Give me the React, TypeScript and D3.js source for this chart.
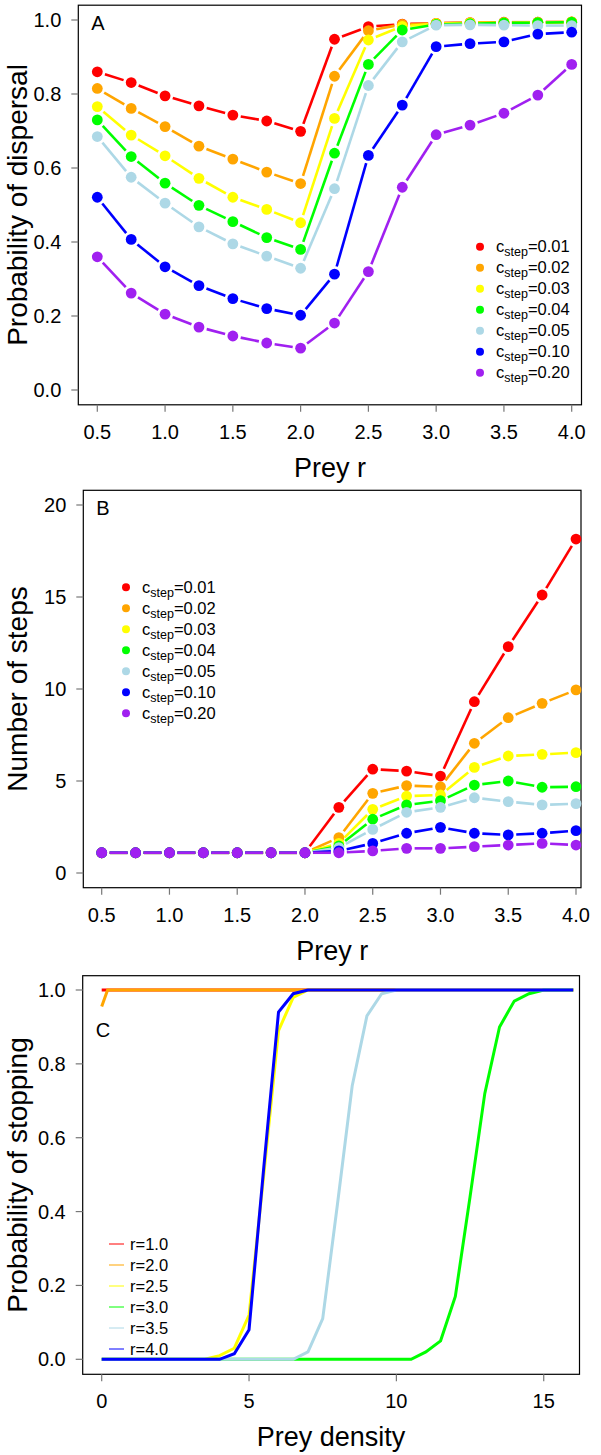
import * as d3 from "d3";
import React, { useEffect, useRef } from "react";

const rValues = [0.5, 0.75, 1, 1.25, 1.5, 1.75, 2, 2.25, 2.5, 2.75, 3, 3.25, 3.5, 3.75, 4];
const cStepLabels = ["0.01", "0.02", "0.03", "0.04", "0.05", "0.10", "0.20"];
const cStepColors = ["#FF0000", "#FFA500", "#FFFF00", "#00FF00", "#ADD8E6", "#0000FF", "#A020F0"];

// panel A: probability of dispersal, one array per c_step
const dispersal001 = [0.86, 0.831, 0.795, 0.768, 0.743, 0.727, 0.699, 0.948, 0.982, 0.989, 0.991, 0.993, 0.994, 0.994, 0.995];
const dispersal002 = [0.815, 0.761, 0.712, 0.659, 0.624, 0.589, 0.558, 0.848, 0.971, 0.988, 0.991, 0.993, 0.993, 0.994, 0.994];
const dispersal003 = [0.766, 0.689, 0.633, 0.572, 0.521, 0.488, 0.452, 0.734, 0.946, 0.983, 0.99, 0.992, 0.993, 0.993, 0.995];
const dispersal004 = [0.73, 0.631, 0.559, 0.499, 0.455, 0.412, 0.38, 0.64, 0.88, 0.973, 0.988, 0.99, 0.992, 0.993, 0.994];
const dispersal005 = [0.685, 0.575, 0.505, 0.441, 0.395, 0.362, 0.329, 0.544, 0.823, 0.941, 0.986, 0.987, 0.986, 0.985, 0.985];
const dispersal010 = [0.521, 0.407, 0.333, 0.282, 0.247, 0.22, 0.202, 0.313, 0.634, 0.77, 0.928, 0.936, 0.941, 0.962, 0.967];
const dispersal020 = [0.36, 0.262, 0.205, 0.17, 0.146, 0.127, 0.113, 0.181, 0.32, 0.548, 0.69, 0.716, 0.748, 0.797, 0.88];

// panel B: number of steps
const steps001 = [1.1, 1.1, 1.1, 1.1, 1.1, 1.1, 1.1, 3.57, 5.64, 5.54, 5.27, 9.31, 12.3, 15.11, 18.15];
const steps002 = [1.1, 1.1, 1.1, 1.1, 1.1, 1.1, 1.1, 1.92, 4.33, 4.75, 4.69, 7.05, 8.44, 9.22, 9.95];
const steps003 = [1.1, 1.1, 1.1, 1.1, 1.1, 1.1, 1.1, 1.61, 3.46, 4.18, 4.24, 5.74, 6.36, 6.45, 6.54];
const steps004 = [1.1, 1.1, 1.1, 1.1, 1.1, 1.1, 1.1, 1.47, 2.92, 3.7, 3.93, 4.78, 5.0, 4.66, 4.69];
const steps005 = [1.1, 1.1, 1.1, 1.1, 1.1, 1.1, 1.1, 1.38, 2.37, 3.3, 3.57, 4.09, 3.88, 3.7, 3.77];
const steps010 = [1.1, 1.1, 1.1, 1.1, 1.1, 1.1, 1.1, 1.2, 1.61, 2.16, 2.48, 2.16, 2.07, 2.16, 2.3];
const steps020 = [1.1, 1.1, 1.1, 1.1, 1.1, 1.1, 1.1, 1.1, 1.2, 1.34, 1.34, 1.43, 1.52, 1.61, 1.52];

// panel C: probability of stopping vs prey density, [density, prob]
const rLabels = ["1.0", "2.0", "2.5", "3.0", "3.5", "4.0"];
const rColors = ["#FF0000", "#FFA500", "#FFFF00", "#00FF00", "#ADD8E6", "#0000FF"];
const stopR10 = [[0, 1], [16, 1]];
const stopR20 = [[0, 0.955], [0.2, 1], [16, 1]];
const stopR25 = [[0, 0], [3.5, 0], [4, 0.01], [4.5, 0.03], [5, 0.12], [5.5, 0.5], [6, 0.89], [6.5, 0.98], [7, 1], [16, 1]];
const stopR30 = [[0, 0], [10.5, 0], [11, 0.02], [11.5, 0.05], [12, 0.17], [12.5, 0.44], [13, 0.72], [13.5, 0.9], [14, 0.97], [14.5, 0.99], [15, 1], [16, 1]];
const stopR35 = [[0, 0], [6.5, 0], [7, 0.02], [7.5, 0.11], [8, 0.42], [8.5, 0.74], [9, 0.93], [9.5, 0.99], [10, 1], [16, 1]];
const stopR40 = [[0, 0], [4, 0], [4.5, 0.015], [5, 0.08], [5.5, 0.52], [6, 0.94], [6.5, 0.99], [7, 1], [16, 1]];

const FONT = "Liberation Sans, Arial, Helvetica, sans-serif";
const TICK_COL = "#777";

export default function App() {
  const svgRef = useRef(null);

  const drawFrame = (svg, p, xTicks, yTicks, xFmt, yFmt, xLabel, yLabel, tag, tagY) => {
    const g = svg.append("g");
    g.append("rect")
      .attr("x", p.left).attr("y", p.top)
      .attr("width", p.right - p.left).attr("height", p.bottom - p.top)
      .attr("fill", "none").attr("stroke", "#000").attr("stroke-width", 1.2);

    // x axis ticks
    xTicks.forEach((t) => {
      const x = p.x(t);
      g.append("line").attr("x1", x).attr("x2", x).attr("y1", p.bottom).attr("y2", p.bottom + 7)
        .attr("stroke", TICK_COL).attr("stroke-width", 1.2);
      g.append("text").attr("x", x).attr("y", p.bottom + 34)
        .attr("text-anchor", "middle").attr("font-size", 20).attr("font-family", FONT)
        .text(xFmt(t));
    });
    // y axis ticks
    yTicks.forEach((t) => {
      const y = p.y(t);
      g.append("line").attr("x1", p.left - 7).attr("x2", p.left).attr("y1", y).attr("y2", y)
        .attr("stroke", TICK_COL).attr("stroke-width", 1.2);
      g.append("text").attr("x", p.left - 17).attr("y", y + 7)
        .attr("text-anchor", "end").attr("font-size", 20).attr("font-family", FONT)
        .text(yFmt(t));
    });

    g.append("text").attr("x", (p.left + p.right) / 2).attr("y", p.bottom + 72)
      .attr("text-anchor", "middle").attr("font-size", 27).attr("font-family", FONT)
      .text(xLabel);
    g.append("text")
      .attr("transform", `translate(${27},${(p.top + p.bottom) / 2}) rotate(-90)`)
      .attr("text-anchor", "middle").attr("font-size", 28).attr("font-family", FONT)
      .text(yLabel);
    g.append("text").attr("x", p.left + 13).attr("y", tagY)
      .attr("font-size", 20).attr("font-family", FONT).text(tag);
  };

  // R's type="b": segments with gaps around points, then filled points
  const drawSeriesB = (svg, p, ys, color) => {
    const pts = rValues.map((r, i) => [p.x(r), p.y(ys[i])]);
    const gap = 8;
    for (let i = 0; i < pts.length - 1; i++) {
      const [x1, y1] = pts[i];
      const [x2, y2] = pts[i + 1];
      const len = Math.hypot(x2 - x1, y2 - y1);
      if (len <= 2 * gap) continue;
      const ux = (x2 - x1) / len;
      const uy = (y2 - y1) / len;
      svg.append("line")
        .attr("x1", x1 + ux * gap).attr("y1", y1 + uy * gap)
        .attr("x2", x2 - ux * gap).attr("y2", y2 - uy * gap)
        .attr("stroke", color).attr("stroke-width", 2.6);
    }
    svg.append("g").selectAll("circle").data(pts).join("circle")
      .attr("cx", (d) => d[0]).attr("cy", (d) => d[1]).attr("r", 5.4)
      .attr("fill", color);
  };

  const drawCStepLegend = (svg, x0, y0) => {
    cStepLabels.forEach((lab, i) => {
      const y = y0 + i * 21;
      svg.append("circle").attr("cx", x0).attr("cy", y).attr("r", 4).attr("fill", cStepColors[i]);
      const t = svg.append("text").attr("x", x0 + 16).attr("y", y + 5.5)
        .attr("font-size", 16.5).attr("font-family", FONT);
      t.append("tspan").text("c");
      t.append("tspan").attr("font-size", 12.5).attr("dy", 4).text("step");
      t.append("tspan").attr("dy", -4).text("=" + lab);
    });
  };

  useEffect(() => {
    const svg = d3.select(svgRef.current);
    svg.selectAll("*").remove();

    const xTicksR = [0.5, 1, 1.5, 2, 2.5, 3, 3.5, 4];
    const f1 = d3.format(".1f");

    // ---- A ----
    const pA = {
      left: 78.3, right: 581.5, top: 5.2, bottom: 404.8,
      x: d3.scaleLinear().domain([0.5, 4]).range([97.3, 571.7]),
      y: d3.scaleLinear().domain([0, 1]).range([390, 20]),
    };
    drawFrame(svg, pA, xTicksR, [0, 0.2, 0.4, 0.6, 0.8, 1], f1, f1,
      "Prey r", "Probability of dispersal", "A", 30);
    [dispersal001, dispersal002, dispersal003, dispersal004, dispersal005, dispersal010, dispersal020]
      .forEach((ys, i) => drawSeriesB(svg, pA, ys, cStepColors[i]));
    drawCStepLegend(svg, 480, 246.7);

    // ---- B ----
    const pB = {
      left: 83.3, right: 581, top: 490.3, bottom: 887.7,
      x: d3.scaleLinear().domain([0.5, 4]).range([101.7, 576]),
      y: d3.scaleLinear().domain([0, 20]).range([873, 505]),
    };
    drawFrame(svg, pB, xTicksR, [0, 5, 10, 15, 20], f1, d3.format("d"),
      "Prey r", "Number of steps", "B", 515);
    [steps001, steps002, steps003, steps004, steps005, steps010, steps020]
      .forEach((ys, i) => drawSeriesB(svg, pB, ys, cStepColors[i]));
    drawCStepLegend(svg, 126, 587.3);

    // ---- C ----
    const pC = {
      left: 82.7, right: 579.5, top: 975.7, bottom: 1374.3,
      x: d3.scaleLinear().domain([0, 16]).range([101.7, 573.2]),
      y: d3.scaleLinear().domain([0, 1]).range([1359.3, 990]),
    };
    drawFrame(svg, pC, [0, 5, 10, 15], [0, 0.2, 0.4, 0.6, 0.8, 1], d3.format("d"), f1,
      "Prey density", "Probability of stopping", "C", 1037);
    const line = d3.line().x((d) => pC.x(d[0])).y((d) => pC.y(d[1]));
    [stopR10, stopR20, stopR25, stopR30, stopR35, stopR40].forEach((data, i) => {
      svg.append("path").datum(data)
        .attr("fill", "none").attr("stroke", rColors[i]).attr("stroke-width", 3)
        .attr("d", line);
    });
    rLabels.forEach((lab, i) => {
      const y = 1244 + i * 21;
      svg.append("line").attr("x1", 109).attr("x2", 124).attr("y1", y).attr("y2", y)
        .attr("stroke", rColors[i]).attr("stroke-width", 1);
      svg.append("text").attr("x", 130).attr("y", y + 5.5)
        .attr("font-size", 16.5).attr("font-family", FONT).text("r=" + lab);
    });
  });

  return (
    <svg
      ref={svgRef}
      width={601}
      height={1455}
      style={{ position: "absolute", left: 0, top: 0, background: "#fff" }}
    ></svg>
  );
}
